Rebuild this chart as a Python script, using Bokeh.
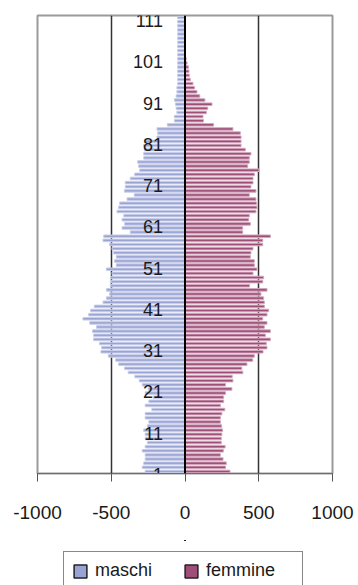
from bokeh.plotting import figure
from bokeh.layouts import column
from bokeh.models import (ColumnDataSource, FixedTicker, Span, Legend, LegendItem,
                          CustomJSTickFormatter)
from bokeh.core.properties import value
from bokeh.embed import file_html
from bokeh.resources import INLINE

# Ages 1..111 (one bar per year of age)
ages = list(range(1, 112))

# Residents by age: men (drawn to the left) and women (drawn to the right)
maschi = [
    270, 290, 280, 270, 270, 290, 270, 255, 270, 270,      # 1-10
    280, 255, 245, 270, 270, 225, 270, 245, 215, 270,      # 11-20
    250, 290, 310, 340, 385, 410, 450, 470, 520, 570,      # 21-30
    565, 580, 620, 620, 627, 600, 646, 692, 653, 640,      # 31-40
    615, 556, 533, 511, 533, 506, 500, 505, 495, 533,      # 41-50
    466, 479, 466, 484, 495, 511, 556, 551, 371, 427,      # 51-60
    409, 427, 415, 461, 450, 443, 393, 344, 411, 405,      # 61-70
    405, 371, 341, 307, 314, 321, 280, 280, 276, 280,      # 71-80
    275, 190, 185, 190, 120, 72, 72, 55, 60, 65,           # 81-90
    72, 60, 55, 55, 50, 50, 50, 50, 50, 50,                # 91-100
    50, 50, 50, 50, 50, 50, 50, 50, 50, 50,                # 101-110
    50,                                                    # 111
]
femmine = [
    305, 275, 280, 258, 240, 260, 272, 246, 246, 250,      # 1-10
    255, 248, 240, 240, 250, 270, 240, 262, 262, 275,      # 11-20
    318, 275, 325, 320, 392, 385, 420, 459, 470, 529,      # 21-30
    556, 551, 579, 545, 579, 538, 556, 527, 556, 567,      # 31-40
    538, 538, 533, 515, 556, 438, 527, 533, 461, 488,      # 41-50
    470, 470, 443, 447, 461, 527, 527, 579, 391, 391,      # 51-60
    443, 432, 436, 481, 488, 484, 481, 436, 481, 447,      # 61-70
    461, 461, 470, 502, 425, 436, 436, 447, 409, 380,      # 71-80
    380, 380, 375, 325, 194, 125, 122, 145, 154, 183,      # 81-90
    135, 100, 81, 65, 54, 36, 29, 27, 23, 14,              # 91-100
    8, 0, 0, 0, 0, 0, 0, 0, 0, 0,                          # 101-110
    0,                                                     # 111
]

age_ticks = [1, 11, 21, 31, 41, 51, 61, 71, 81, 91, 101, 111]
value_ticks = [-1000, -500, 0, 500, 1000]

BLUE = "#9aa4d4"
BLUE_EDGE = "#c9cfea"
WINE = "#9e4e77"
WINE_EDGE = "#d3a9bf"
FONT = "Liberation Sans"

source = ColumnDataSource(data=dict(
    age=ages,
    maschi_left=[-v for v in maschi],
    femmine_right=femmine,
))

# ---- pyramid -------------------------------------------------------------
p = figure(frame_width=295, frame_height=458,
           output_backend="svg", toolbar_location=None,
           x_range=(-1000, 1000), y_range=(0.5, 111.5),
           min_border_left=37, min_border_right=26, min_border_top=15,
           min_border_bottom=67)
p.background_fill_color = "white"
p.border_fill_color = "white"
p.outline_line_color = "#9a9a9a"
p.outline_line_width = 2

# vertical gridlines at +-500
p.ygrid.visible = False
p.xgrid.ticker = FixedTicker(ticks=[-500, 500])
p.xgrid.grid_line_color = "#333333"
p.xgrid.grid_line_width = 1.5

p.yaxis.visible = False

xa = p.xaxis[0]
xa.ticker = FixedTicker(ticks=value_ticks)
xa.formatter = CustomJSTickFormatter(code="return tick.toFixed(0);")
xa.axis_line_color = "#a0507a"
xa.axis_line_width = 1
xa.major_tick_line_color = "#555555"
xa.major_tick_out = 8
xa.major_tick_in = 0
xa.minor_tick_line_color = None
xa.major_label_standoff = 24
xa.major_label_text_font = FONT
xa.major_label_text_font_size = "19px"
xa.major_label_text_color = "#1a1a1a"

p.hbar(y="age", left="maschi_left", right=0, height=0.62, source=source,
       fill_color=BLUE, line_color=BLUE_EDGE, line_width=1)
p.hbar(y="age", left=0, right="femmine_right", height=0.62, source=source,
       fill_color=WINE, line_color=WINE_EDGE, line_width=1)

# zero line acting as the category axis
p.add_layout(Span(location=0, dimension="height", line_color="black",
                  line_width=2, level="overlay"))

# age labels beside the central axis
p.text(x=[0] * len(age_ticks), y=age_ticks, text=[str(a) for a in age_ticks],
       text_align="right", text_baseline="middle", x_offset=-22, y_offset=3,
       text_font=value(FONT), text_font_size="18px", text_color="#1a1a1a")

# ---- legend strip --------------------------------------------------------
# The strip's ranges leave its own bars out of view; they only supply swatches.
lg = figure(width=358, height=45, output_backend="svg", toolbar_location=None,
            x_range=(-1000, 1000), y_range=(-20, -10),
            x_axis_type=None, y_axis_type=None,
            min_border=0)
lg.outline_line_color = None
lg.background_fill_color = "white"
lg.border_fill_color = "white"

sw_m = lg.hbar(y="age", left=0, right=0, height=0.3, source=source,
               fill_color=BLUE, line_color="#222222", line_width=1.5)
sw_f = lg.hbar(y="age", left=0, right=0, height=0.3, source=source,
               fill_color=WINE, line_color="#222222", line_width=1.5)

legend = Legend(items=[LegendItem(label="maschi", renderers=[sw_m], index=0),
                       LegendItem(label="femmine", renderers=[sw_f], index=0)],
                orientation="horizontal", location=(26, -5),
                label_text_font=FONT, label_text_font_size="18px",
                label_text_color="#1a1a1a", label_width=88, label_height=18,
                glyph_width=16, glyph_height=16, label_standoff=7,
                spacing=0, padding=8, margin=0,
                border_line_color="#111111", border_line_width=1.5,
                background_fill_alpha=1)
lg.add_layout(legend, "center")

open("out.html", "w").write(file_html(column(p, lg, spacing=0), INLINE))
